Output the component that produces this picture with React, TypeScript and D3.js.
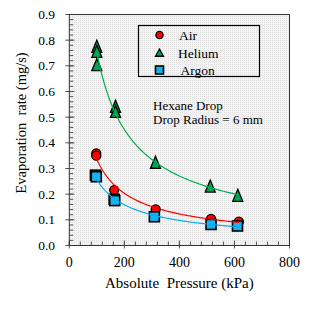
import React from "react";
import { scaleLinear, line, range } from "d3";

// pressure (kPa) and evaporation rate (mg/s)
const airP = [98, 98, 163, 314, 515, 616];
const airRate = [0.359, 0.35, 0.216, 0.141, 0.104, 0.093];
const heliumP = [100, 100, 100, 168, 168, 313, 512, 612];
const heliumRate = [0.774, 0.754, 0.702, 0.54, 0.52, 0.322, 0.229, 0.193];
const argonP = [95, 98, 163, 165, 309, 515, 611];
const argonRate = [0.274, 0.268, 0.18, 0.175, 0.112, 0.082, 0.076];

const xTicks = [0, 200, 400, 600, 800];
const yTicks = [0, 0.1, 0.2, 0.3, 0.4, 0.5, 0.6, 0.7, 0.8, 0.9];
const legendNames = ["Air", "Helium", "Argon"];

const serif = { fontFamily: "Liberation Serif, serif", whiteSpace: "pre" as const };

// power-law trend line y = a * x^b, least squares in log-log space
const powerFit = (xs: number[], ys: number[]) => {
  const lx = xs.map(Math.log);
  const ly = ys.map(Math.log);
  const n = xs.length;
  const mx = lx.reduce((s, v) => s + v, 0) / n;
  const my = ly.reduce((s, v) => s + v, 0) / n;
  let num = 0;
  let den = 0;
  for (let i = 0; i < n; i++) {
    num += (lx[i] - mx) * (ly[i] - my);
    den += (lx[i] - mx) * (lx[i] - mx);
  }
  const b = num / den;
  const a = Math.exp(my - b * mx);
  return (x: number) => a * Math.pow(x, b);
};

const App = () => {
  const width = 315;
  const height = 309;
  const left = 69.3;
  const right = 289.5;
  const top = 14.5;
  const bottom = 245.5;

  const x = scaleLinear().domain([0, 800]).range([left, right]);
  const y = scaleLinear().domain([0, 0.9]).range([bottom, top]);

  const series = [
    { name: "Air", p: airP, r: airRate, fill: "#ff0000", stroke: "#ff0000", shape: "circle", end: 620 },
    { name: "Helium", p: heliumP, r: heliumRate, fill: "#00a550", stroke: "#00b050", shape: "triangle", end: 617 },
    { name: "Argon", p: argonP, r: argonRate, fill: "#19b2ee", stroke: "#00b0f0", shape: "square", end: 620 },
  ];

  const marker = (shape: string, cx: number, cy: number, fill: string, s: number, tall: number, key?: string) => {
    if (shape === "circle")
      return <circle key={key} cx={cx} cy={cy} r={s * 0.45} fill={fill} stroke="#000" strokeWidth={1.3} />;
    if (shape === "square")
      return (
        <rect key={key} x={cx - s / 2} y={cy - s / 2} width={s} height={s} fill={fill} stroke="#000" strokeWidth={1.6} />
      );
    const h = s * tall;
    return (
      <path
        key={key}
        d={`M${cx},${cy - h * 0.55}L${cx + s / 2},${cy + h * 0.45}L${cx - s / 2},${cy + h * 0.45}Z`}
        fill={fill}
        stroke="#000"
        strokeWidth={1.3}
      />
    );
  };

  const xMinor = range(0, 801, 40);
  const yMinor = range(0, 91, 2).map((v) => v / 100);

  return (
    <svg width={width} height={height} style={{ position: "absolute", left: 0, top: 0 }}>
      <defs>
        <pattern id="bg" width={2} height={2} patternUnits="userSpaceOnUse">
          <rect width={2} height={2} fill="#f3f3f3" />
          <rect width={1} height={1} fill="#e2e2e2" />
        </pattern>
      </defs>
      <rect x={0} y={0} width={width} height={height} fill="#fff" />
      <rect x={left} y={top} width={right - left} height={bottom - top} fill="url(#bg)" />

      {/* minor ticks pointing inside */}
      {xMinor.map((v) => (
        <line key={"xm" + v} x1={x(v)} x2={x(v)} y1={bottom} y2={bottom - 4} stroke="#555" strokeWidth={1} />
      ))}
      {yMinor.map((v) => (
        <line key={"ym" + v} x1={left} x2={left + 4} y1={y(v)} y2={y(v)} stroke="#555" strokeWidth={1} />
      ))}
      {/* major ticks */}
      {xTicks.map((v) => (
        <line key={"xt" + v} x1={x(v)} x2={x(v)} y1={bottom + 3} y2={bottom - 5} stroke="#555" strokeWidth={1} />
      ))}
      {yTicks.map((v) => (
        <line key={"yt" + v} x1={left - 4} x2={left + 5} y1={y(v)} y2={y(v)} stroke="#555" strokeWidth={1} />
      ))}

      <rect x={left} y={top} width={right - left} height={bottom - top} fill="none" stroke="#333" strokeWidth={1} />

      {xTicks.map((v) => (
        <text key={"xl" + v} x={x(v)} y={267} textAnchor="middle" fontSize={14} style={serif}>
          {v}
        </text>
      ))}
      {yTicks.map((v) => (
        <text key={"yl" + v} x={55} y={y(v) + 4.5} textAnchor="end" fontSize={13.5} style={serif}>
          {v.toFixed(1)}
        </text>
      ))}

      <text x={(left + right) / 2} y={288} textAnchor="middle" fontSize={15} style={serif}>
        {"Absolute  Pressure (kPa)"}
      </text>
      <text transform={`translate(26,123) rotate(-90)`} textAnchor="middle" fontSize={14.5} style={serif}>
        {"Evaporation  rate (mg/s)"}
      </text>

      {/* data markers */}
      {series.map((s) => (
        <g key={s.name}>{s.p.map((p, i) => marker(s.shape, x(p), y(s.r[i]), s.fill, 10, 1.2, s.name + i))}</g>
      ))}

      {/* trend lines */}
      {series.map((s) => {
        const f = powerFit(s.p, s.r);
        const start = Math.min(...s.p);
        const xs = range(start, s.end + 1, 4);
        const path = line<number>()
          .x((d) => x(d))
          .y((d) => y(f(d)))(xs);
        return <path key={"fit" + s.name} d={path || ""} fill="none" stroke={s.stroke} strokeWidth={1.2} />;
      })}

      {/* legend */}
      <rect x={138.5} y={25.5} width={121} height={51} fill="url(#bg)" stroke="#000" strokeWidth={1.2} />
      {series.map((s, i) => {
        const cy = [35, 53, 70][i];
        return (
          <g key={"lg" + s.name}>
            {marker(s.shape, 159.5, cy, s.fill, 8, 0.9)}
            <text x={[179, 178, 180.5][i]} y={cy + 4.5} fontSize={13.5} style={serif}>
              {legendNames[i]}
            </text>
          </g>
        );
      })}

      <text x={153} y={110} fontSize={13} style={serif}>
        Hexane Drop
      </text>
      <text x={153} y={124} fontSize={13} style={serif}>
        Drop Radius = 6 mm
      </text>
    </svg>
  );
};

export default App;
